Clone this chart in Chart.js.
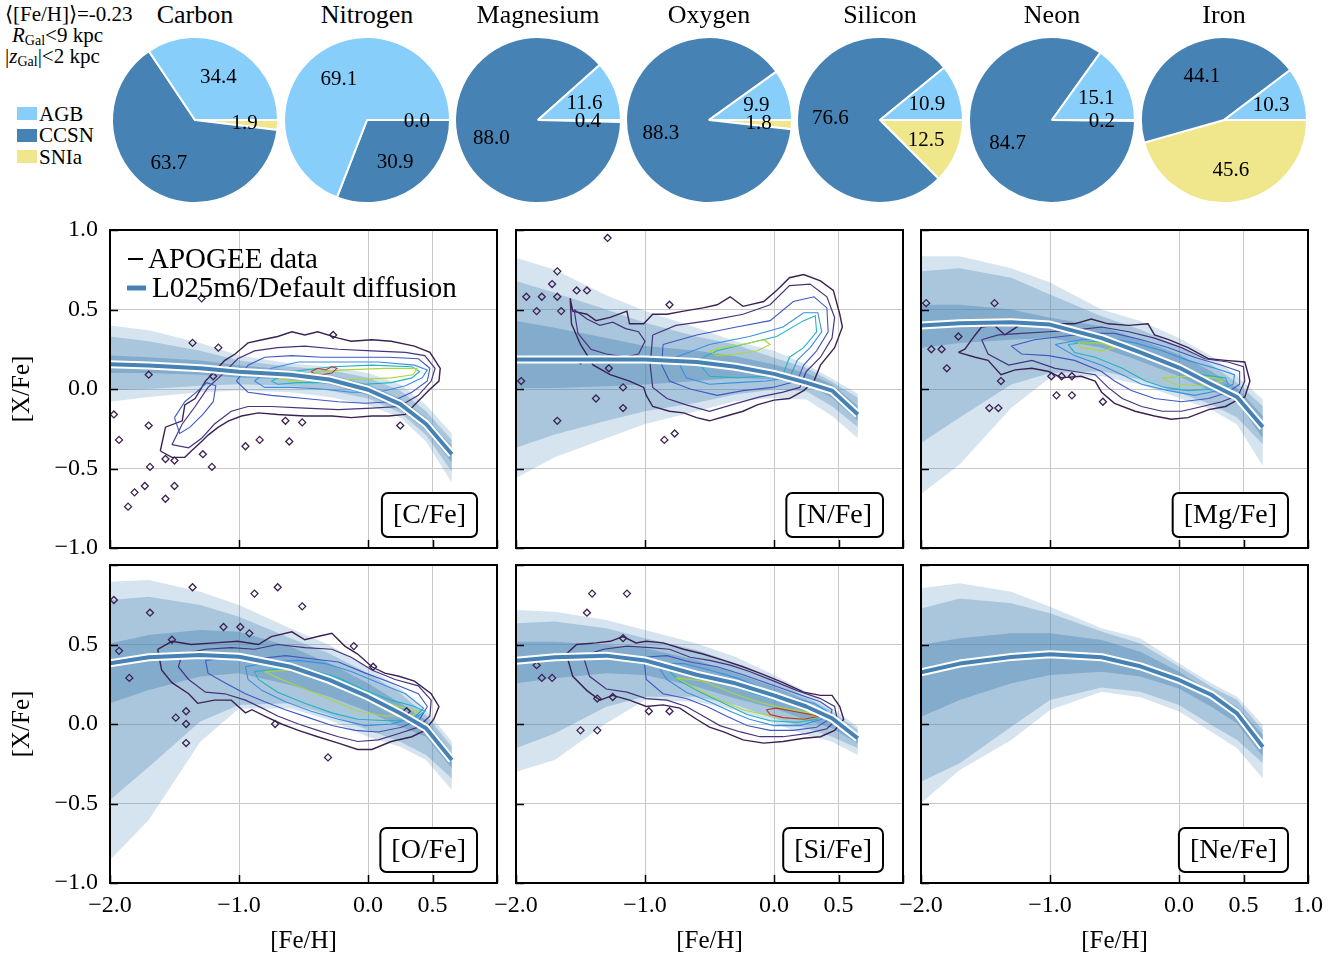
<!DOCTYPE html>
<html>
<head>
<meta charset="utf-8">
<script src="https://cdn.jsdelivr.net/npm/chart.js@4/dist/chart.umd.min.js"></script>
<style>
  html, body { margin: 0; padding: 0; background: #fff; }
  body { width: 1342px; height: 957px; position: relative; overflow: hidden;
         font-family: "Liberation Serif", "Times New Roman", serif; color: #000; }
  canvas { position: absolute; }
  .t { position: absolute; white-space: nowrap; line-height: 1; }
  .sw { position: absolute; width: 20px; height: 13px; }
  sub { font-size: 14px; vertical-align: -3px; line-height: 0; }
</style>
</head>
<body>
<script>
const FONT = '"Liberation Serif", "Times New Roman", serif';

// ---------- nucleosynthetic source shares (per cent) ----------
const sources = ['AGB', 'CCSN', 'SNIa'];
const sourceColors = ['#87cefa', '#4682b4', '#f0e68c'];
const elements = ['Carbon', 'Nitrogen', 'Magnesium', 'Oxygen', 'Silicon', 'Neon', 'Iron'];
const agbShare  = [34.4, 69.1, 11.6,  9.9, 10.9, 15.1, 10.3];
const ccsnShare = [63.7, 30.9, 88.0, 88.3, 76.6, 84.7, 44.1];
const sniaShare = [ 1.9,  0.0,  0.4,  1.8, 12.5,  0.2, 45.6];

// ---------- abundance trends ----------
const feH = [-2.0, -1.7, -1.3, -1.0, -0.6, -0.3, 0.0, 0.25, 0.45, 0.65];
const xTicks = [-2.0, -1.0, 0.0, 0.5, 1.0];
const yTicks = [-1.0, -0.5, 0.0, 0.5, 1.0];

// [C/Fe]
const cMed     = [0.155, 0.148, 0.13, 0.108, 0.09, 0.06, -0.005, -0.095, -0.22, -0.41];
const cOuterHi = [0.40, 0.37, 0.29, 0.21, 0.16, 0.14, 0.10, 0.03, -0.10, -0.28];
const cOuterLo = [-0.08, -0.05, -0.02, -0.01, -0.02, -0.05, -0.10, -0.18, -0.33, -0.59];
const cMidHi   = [0.33, 0.30, 0.24, 0.18, 0.14, 0.12, 0.07, -0.01, -0.14, -0.32];
const cMidLo   = [-0.01, 0.0, 0.02, 0.03, 0.02, -0.01, -0.06, -0.15, -0.29, -0.52];
const cInnerHi = [0.21, 0.20, 0.18, 0.15, 0.12, 0.09, 0.03, -0.06, -0.18, -0.36];
const cInnerLo = [0.10, 0.10, 0.09, 0.07, 0.06, 0.03, -0.04, -0.13, -0.26, -0.46];

// [N/Fe]
const nMed     = [0.186, 0.186, 0.186, 0.185, 0.17, 0.14, 0.095, 0.04, -0.01, -0.16];
const nOuterHi = [0.825, 0.75, 0.59, 0.49, 0.385, 0.30, 0.24, 0.154, 0.065, -0.03];
const nOuterLo = [-0.56, -0.43, -0.31, -0.22, -0.14, -0.077, -0.056, -0.066, -0.17, -0.31];
const nMidHi   = [0.68, 0.605, 0.50, 0.416, 0.33, 0.28, 0.196, 0.133, 0.045, -0.055];
const nMidLo   = [-0.37, -0.286, -0.20, -0.14, -0.087, -0.035, -0.003, -0.014, -0.108, -0.24];
const nInnerHi = [0.427, 0.385, 0.32, 0.27, 0.24, 0.206, 0.154, 0.10, 0.03, -0.108];
const nInnerLo = [0.007, 0.007, 0.018, 0.028, 0.05, 0.07, 0.06, 0.03, -0.055, -0.20];

// [Mg/Fe]
const mgMed     = [0.40, 0.414, 0.42, 0.405, 0.32, 0.23, 0.135, 0.03, -0.05, -0.24];
const mgOuterHi = [0.835, 0.835, 0.76, 0.67, 0.50, 0.427, 0.32, 0.207, 0.08, -0.066];
const mgOuterLo = [-0.66, -0.475, -0.118, 0.07, 0.08, 0.028, -0.056, -0.129, -0.223, -0.485];
const mgMidHi   = [0.74, 0.76, 0.70, 0.594, 0.458, 0.374, 0.27, 0.154, 0.04, -0.108];
const mgMidLo   = [-0.339, -0.18, 0.028, 0.10, 0.112, 0.06, -0.024, -0.097, -0.18, -0.349];
const mgInnerHi = [0.53, 0.53, 0.50, 0.448, 0.395, 0.31, 0.217, 0.112, 0.007, -0.17];
const mgInnerLo = [0.26, 0.29, 0.31, 0.32, 0.26, 0.175, 0.08, -0.014, -0.077, -0.31];

// [O/Fe]
const oMed     = [0.382, 0.42, 0.434, 0.423, 0.36, 0.277, 0.172, 0.067, -0.027, -0.226];
const oOuterHi = [0.895, 0.906, 0.832, 0.748, 0.60, 0.497, 0.36, 0.224, 0.088, -0.111];
const oOuterLo = [-0.855, -0.604, -0.111, 0.098, 0.098, 0.025, -0.080, -0.143, -0.226, -0.415];
const oMidHi   = [0.78, 0.80, 0.748, 0.675, 0.539, 0.444, 0.319, 0.193, 0.057, -0.143];
const oMidLo   = [-0.478, -0.27, 0.015, 0.119, 0.130, 0.057, -0.038, -0.111, -0.195, -0.342];
const oInnerHi = [0.507, 0.56, 0.591, 0.58, 0.486, 0.382, 0.256, 0.130, 0.025, -0.184];
const oInnerLo = [0.13, 0.214, 0.298, 0.319, 0.245, 0.172, 0.078, -0.017, -0.080, -0.279];

// [Si/Fe]
const siMed     = [0.398, 0.42, 0.43, 0.40, 0.31, 0.256, 0.18, 0.11, 0.036, -0.09];
const siOuterHi = [0.717, 0.706, 0.654, 0.591, 0.507, 0.423, 0.308, 0.203, 0.099, -0.017];
const siOuterLo = [-0.30, -0.226, 0.004, 0.151, 0.140, 0.088, 0.004, -0.069, -0.111, -0.195];
const siMidHi   = [0.633, 0.644, 0.602, 0.539, 0.465, 0.382, 0.277, 0.172, 0.078, -0.038];
const siMidLo   = [-0.153, -0.059, 0.109, 0.172, 0.172, 0.119, 0.036, -0.027, -0.080, -0.153];
const siInnerHi = [0.518, 0.518, 0.497, 0.476, 0.402, 0.319, 0.235, 0.151, 0.057, -0.059];
const siInnerLo = [0.256, 0.287, 0.319, 0.308, 0.235, 0.161, 0.099, 0.025, -0.027, -0.122];

// [Ne/Fe]
const neMed     = [0.325, 0.38, 0.422, 0.438, 0.42, 0.363, 0.277, 0.184, 0.067, -0.145];
const neOuterHi = [0.853, 0.885, 0.832, 0.738, 0.602, 0.539, 0.382, 0.256, 0.172, -0.006];
const neOuterLo = [-0.499, -0.289, -0.101, 0.088, 0.203, 0.168, 0.078, -0.048, -0.153, -0.342];
const neMidHi   = [0.727, 0.790, 0.759, 0.696, 0.581, 0.507, 0.361, 0.235, 0.151, -0.038];
const neMidLo   = [-0.363, -0.247, -0.017, 0.151, 0.229, 0.203, 0.119, -0.006, -0.101, -0.247];
const neInnerHi = [0.497, 0.539, 0.570, 0.570, 0.528, 0.455, 0.329, 0.203, 0.109, -0.069];
const neInnerLo = [0.046, 0.151, 0.256, 0.308, 0.329, 0.298, 0.224, 0.109, 0.004, -0.205];

// ---------- APOGEE density contours, [Fe/H],[X/Fe] pairs ----------
const cRing1 = [-1.61,-0.39, -1.57,-0.24, -1.44,-0.20, -1.42,-0.10, -1.34,-0.06, -1.26,0.05, -1.19,0.11, -1.11,0.18, -1.03,0.22, -0.93,0.29, -0.82,0.31, -0.70,0.33, -0.59,0.36, -0.49,0.34, -0.39,0.36, -0.23,0.32, -0.13,0.30, 0.03,0.31, 0.18,0.30, 0.36,0.27, 0.48,0.23, 0.56,0.13, 0.55,0.05, 0.47,-0.01, 0.36,-0.10, 0.29,-0.16, 0.16,-0.17, 0.03,-0.17, -0.13,-0.18, -0.28,-0.17, -0.49,-0.17, -0.70,-0.16, -0.85,-0.15, -0.98,-0.17, -1.08,-0.20, -1.16,-0.24, -1.24,-0.29, -1.29,-0.33, -1.37,-0.39, -1.42,-0.43, -1.52,-0.43];
const cRing2 = [-1.52,-0.35, -1.44,-0.22, -1.34,-0.11, -1.24,0.01, -1.13,0.09, -1.01,0.19, -0.88,0.24, -0.70,0.26, -0.49,0.27, -0.23,0.25, 0.03,0.24, 0.29,0.23, 0.44,0.21, 0.52,0.13, 0.49,0.05, 0.39,-0.04, 0.24,-0.11, 0.03,-0.12, -0.23,-0.13, -0.49,-0.12, -0.75,-0.11, -0.93,-0.11, -1.06,-0.14, -1.19,-0.22, -1.29,-0.31, -1.39,-0.37];
const cRing3 = [-1.02,0.05, -0.93,0.15, -0.80,0.20, -0.59,0.21, -0.36,0.20, -0.10,0.20, 0.16,0.20, 0.39,0.19, 0.48,0.13, 0.46,0.05, 0.34,-0.02, 0.18,-0.08, -0.02,-0.09, -0.23,-0.08, -0.49,-0.06, -0.75,-0.04, -0.93,-0.02];
const cRing4 = [-0.88,0.05, -0.75,0.13, -0.54,0.17, -0.23,0.17, 0.08,0.17, 0.36,0.15, 0.46,0.12, 0.42,0.07, 0.29,0.02, 0.08,-0.02, -0.13,-0.02, -0.36,0.00, -0.59,0.01, -0.80,0.01];
const cRing5 = [-0.75,0.05, -0.59,0.11, -0.28,0.14, 0.03,0.15, 0.34,0.14, 0.40,0.11, 0.34,0.07, 0.18,0.04, -0.02,0.03, -0.28,0.04, -0.54,0.04, -0.70,0.03];
const cRing6 = [-0.70,0.07, -0.49,0.10, -0.18,0.12, 0.13,0.13, 0.38,0.13, 0.35,0.09, 0.18,0.07, -0.08,0.06, -0.36,0.06, -0.59,0.05];
const cRing7 = [-0.44,0.11, -0.39,0.13, -0.33,0.12, -0.28,0.14, -0.24,0.13, -0.28,0.10, -0.36,0.09, -0.41,0.09];
const cRing2b = [-1.50,-0.18, -1.42,-0.08, -1.33,-0.02, -1.25,0.04, -1.18,0.02, -1.20,-0.08, -1.28,-0.16, -1.38,-0.24, -1.46,-0.28];
const cOutliers = [-1.29,0.57, -1.36,0.29, -1.16,0.26, -1.70,0.09, -1.97,-0.16, -1.93,-0.32, -1.70,-0.23, -1.57,-0.44, -1.50,-0.45, -1.28,-0.41, -1.21,-0.49, -1.69,-0.49, -1.73,-0.61, -1.81,-0.65, -1.86,-0.74, -1.57,-0.69, -1.50,-0.61, -0.95,-0.36, -0.84,-0.32, -0.64,-0.20, -0.61,-0.33, -0.51,-0.21, -0.27,0.34, 0.25,-0.23, -1.20,0.08];

const nRing1 = [-1.58,0.57, -1.56,0.49, -1.45,0.47, -1.38,0.43, -1.27,0.45, -1.14,0.49, -1.12,0.41, -1.01,0.41, -0.94,0.47, -0.83,0.47, -0.70,0.49, -0.55,0.51, -0.44,0.53, -0.34,0.58, -0.24,0.52, -0.08,0.55, 0.02,0.62, 0.12,0.70, 0.23,0.72, 0.36,0.68, 0.46,0.62, 0.51,0.47, 0.53,0.39, 0.47,0.26, 0.36,0.15, 0.31,0.05, 0.23,-0.01, 0.12,-0.06, 0.00,-0.07, -0.13,-0.10, -0.24,-0.14, -0.37,-0.17, -0.50,-0.20, -0.60,-0.18, -0.70,-0.15, -0.81,-0.14, -0.94,-0.11, -0.99,-0.04, -1.01,0.01, -1.12,0.05, -1.27,0.09, -1.40,0.15, -1.50,0.28, -1.57,0.41];
const nRing2 = [-0.94,0.34, -0.76,0.40, -0.50,0.43, -0.24,0.47, -0.03,0.53, 0.12,0.65, 0.28,0.66, 0.41,0.58, 0.47,0.45, 0.45,0.32, 0.36,0.20, 0.25,0.11, 0.20,0.01, 0.07,-0.02, -0.11,-0.05, -0.29,-0.09, -0.50,-0.14, -0.68,-0.10, -0.83,-0.06, -0.94,0.01, -0.96,0.15];
const nRing2b = [-1.55,0.50, -1.45,0.44, -1.35,0.40, -1.25,0.42, -1.15,0.38, -1.05,0.36, -1.00,0.30, -1.05,0.22, -1.15,0.20, -1.30,0.22, -1.42,0.25, -1.52,0.35];
const nRing3 = [-0.86,0.28, -0.60,0.34, -0.29,0.39, -0.03,0.43, 0.15,0.55, 0.31,0.58, 0.41,0.51, 0.42,0.36, 0.33,0.24, 0.23,0.15, 0.18,0.05, -0.01,0.01, -0.24,-0.01, -0.44,-0.04, -0.65,0.00, -0.81,0.05, -0.87,0.15];
const nRing4 = [-0.76,0.20, -0.50,0.28, -0.19,0.33, 0.07,0.39, 0.23,0.48, 0.34,0.48, 0.37,0.36, 0.28,0.26, 0.18,0.18, 0.12,0.07, -0.06,0.05, -0.29,0.04, -0.50,0.03, -0.68,0.07];
const nRing5 = [-0.60,0.18, -0.44,0.24, -0.24,0.28, 0.02,0.33, 0.23,0.43, 0.32,0.46, 0.33,0.36, 0.23,0.26, 0.12,0.20, 0.07,0.09, -0.08,0.08, -0.29,0.07, -0.50,0.08];
const nRing6 = [-0.50,0.24, -0.39,0.26, -0.24,0.28, -0.08,0.31, -0.03,0.28, -0.13,0.24, -0.29,0.22, -0.44,0.21];
const nOutliers = [-1.29,0.95, -1.68,0.74, -1.72,0.66, -1.92,0.58, -1.80,0.58, -1.68,0.58, -1.53,0.62, -1.45,0.62, -1.84,0.49, -1.65,0.49, -1.96,0.05, -1.68,-0.20, -1.17,-0.12, -0.85,-0.32, -0.77,-0.28, -0.81,0.53, -1.50,0.18, -1.28,0.13, -1.17,0.01, -1.38,-0.06];

const mgRing1 = [-1.71,0.23, -1.66,0.25, -1.58,0.34, -1.53,0.39, -1.43,0.40, -1.35,0.34, -1.22,0.41, -1.07,0.39, -0.96,0.41, -0.81,0.41, -0.68,0.44, -0.55,0.41, -0.39,0.40, -0.24,0.41, -0.19,0.34, -0.08,0.31, 0.07,0.26, 0.23,0.19, 0.36,0.18, 0.51,0.17, 0.55,0.05, 0.51,-0.05, 0.43,-0.08, 0.36,-0.11, 0.23,-0.13, 0.07,-0.18, -0.06,-0.19, -0.19,-0.17, -0.34,-0.14, -0.50,-0.09, -0.60,-0.02, -0.65,0.05, -0.76,0.08, -0.91,0.07, -1.01,0.11, -1.14,0.13, -1.27,0.12, -1.38,0.09, -1.48,0.18, -1.58,0.20];
const mgRing2 = [-1.53,0.31, -1.40,0.34, -1.22,0.35, -1.01,0.36, -0.81,0.37, -0.60,0.39, -0.39,0.36, -0.19,0.32, 0.02,0.26, 0.20,0.19, 0.38,0.17, 0.50,0.14, 0.51,0.05, 0.46,-0.04, 0.33,-0.08, 0.18,-0.11, 0.02,-0.14, -0.13,-0.14, -0.29,-0.11, -0.44,-0.06, -0.55,0.01, -0.65,0.09, -0.81,0.11, -0.96,0.13, -1.14,0.18, -1.32,0.15, -1.48,0.22];
const mgRing3 = [-1.30,0.27, -1.12,0.31, -0.91,0.33, -0.70,0.35, -0.50,0.35, -0.29,0.31, -0.08,0.26, 0.12,0.20, 0.33,0.15, 0.47,0.11, 0.47,0.03, 0.38,-0.02, 0.23,-0.06, 0.02,-0.08, -0.19,-0.06, -0.37,-0.01, -0.50,0.05, -0.60,0.11, -0.81,0.18, -1.01,0.21, -1.22,0.22];
const mgRing4 = [-0.96,0.28, -0.76,0.31, -0.55,0.32, -0.34,0.29, -0.13,0.24, 0.07,0.18, 0.28,0.13, 0.43,0.09, 0.42,0.03, 0.31,-0.01, 0.12,-0.04, -0.08,-0.01, -0.29,0.03, -0.44,0.09, -0.60,0.15, -0.81,0.21];
const mgRing5 = [-0.86,0.28, -0.65,0.30, -0.44,0.27, -0.24,0.21, -0.03,0.13, 0.18,0.09, 0.36,0.07, 0.38,0.03, 0.28,0.00, 0.07,-0.01, -0.11,0.01, -0.26,0.05, -0.44,0.13, -0.65,0.20, -0.81,0.23];
const mgRing6a = [-0.78,0.29, -0.60,0.29, -0.50,0.26, -0.60,0.24, -0.76,0.26];
const mgRing6b = [-0.13,0.07, 0.07,0.08, 0.28,0.07, 0.34,0.05, 0.18,0.02, -0.03,0.03];
const mgOutliers = [-1.96,0.54, -1.43,0.54, -1.92,0.25, -1.84,0.25, -1.80,0.13, -1.47,-0.12, -1.40,-0.12, -0.99,0.08, -0.91,0.08, -0.83,0.08, -0.95,-0.04, -0.83,-0.04, -0.59,-0.08, -1.71,0.33, -1.38,0.05];

const oRing1 = [-1.63,0.47, -1.52,0.52, -1.37,0.50, -1.19,0.51, -1.01,0.52, -0.85,0.50, -0.75,0.55, -0.59,0.58, -0.49,0.53, -0.39,0.55, -0.28,0.57, -0.18,0.49, -0.08,0.44, 0.03,0.36, 0.13,0.32, 0.24,0.30, 0.36,0.27, 0.49,0.19, 0.55,0.11, 0.51,0.03, 0.44,-0.04, 0.34,-0.08, 0.18,-0.11, 0.03,-0.16, -0.08,-0.16, -0.23,-0.12, -0.39,-0.08, -0.54,-0.04, -0.67,0.00, -0.80,0.05, -0.90,0.09, -0.95,0.07, -1.06,0.15, -1.19,0.15, -1.32,0.13, -1.39,0.19, -1.52,0.26, -1.60,0.34];
const oRing2 = [-1.44,0.44, -1.26,0.47, -1.06,0.48, -0.88,0.47, -0.70,0.50, -0.49,0.48, -0.28,0.47, -0.13,0.42, 0.03,0.34, 0.21,0.28, 0.39,0.24, 0.49,0.15, 0.48,0.05, 0.39,-0.02, 0.24,-0.06, 0.08,-0.10, -0.08,-0.11, -0.23,-0.08, -0.39,-0.04, -0.54,0.00, -0.70,0.05, -0.82,0.10, -0.95,0.15, -1.11,0.19, -1.26,0.20, -1.39,0.28, -1.47,0.36];
const oRing3 = [-1.26,0.40, -1.06,0.42, -0.85,0.41, -0.64,0.43, -0.44,0.41, -0.23,0.39, -0.02,0.32, 0.18,0.26, 0.39,0.19, 0.46,0.11, 0.40,0.03, 0.26,-0.02, 0.08,-0.05, -0.10,-0.04, -0.28,-0.01, -0.46,0.04, -0.64,0.09, -0.80,0.14, -0.95,0.19, -1.11,0.26, -1.24,0.32];
const oRing4 = [-0.95,0.36, -0.75,0.39, -0.54,0.40, -0.33,0.38, -0.13,0.33, 0.08,0.26, 0.29,0.19, 0.43,0.10, 0.36,0.04, 0.18,0.00, -0.02,-0.01, -0.23,0.03, -0.44,0.08, -0.64,0.14, -0.82,0.21, -0.93,0.28];
const oRing5 = [-0.88,0.33, -0.64,0.35, -0.44,0.34, -0.23,0.29, -0.02,0.21, 0.18,0.15, 0.36,0.11, 0.44,0.08, 0.36,0.03, 0.16,0.02, -0.08,0.03, -0.28,0.07, -0.49,0.13, -0.70,0.20, -0.85,0.28];
const oRing6 = [-0.80,0.33, -0.59,0.34, -0.39,0.31, -0.18,0.24, 0.03,0.16, 0.24,0.11, 0.39,0.08, 0.34,0.05, 0.13,0.05, -0.08,0.08, -0.28,0.15, -0.49,0.22, -0.70,0.29];
const oOutliers = [-1.97,0.78, -1.36,0.86, -1.69,0.70, -0.88,0.82, -0.70,0.86, -0.51,0.74, -1.12,0.61, -0.99,0.61, -0.92,0.57, -1.93,0.46, -1.85,0.29, -1.52,0.53, -1.49,0.04, -1.41,0.08, -1.41,0.00, -1.41,-0.12, -0.11,0.49, 0.04,0.36, -0.31,-0.21, -0.72,0.00, 0.30,0.08];

const siRing1 = [-1.61,0.44, -1.53,0.50, -1.38,0.51, -1.27,0.52, -1.17,0.55, -1.07,0.51, -0.99,0.52, -0.86,0.51, -0.70,0.47, -0.55,0.44, -0.39,0.40, -0.24,0.36, -0.08,0.31, 0.07,0.26, 0.23,0.20, 0.36,0.18, 0.45,0.18, 0.51,0.11, 0.54,0.03, 0.47,-0.04, 0.36,-0.08, 0.23,-0.09, 0.07,-0.11, -0.08,-0.12, -0.24,-0.10, -0.39,-0.05, -0.50,-0.02, -0.60,0.03, -0.73,0.10, -0.86,0.12, -0.99,0.11, -1.12,0.15, -1.25,0.18, -1.35,0.15, -1.45,0.21, -1.56,0.30];
const siRing2 = [-1.48,0.43, -1.32,0.47, -1.14,0.49, -0.96,0.48, -0.81,0.47, -0.65,0.42, -0.50,0.40, -0.34,0.37, -0.19,0.33, 0.00,0.27, 0.18,0.21, 0.36,0.16, 0.47,0.11, 0.49,0.03, 0.41,-0.03, 0.25,-0.06, 0.07,-0.08, -0.11,-0.08, -0.26,-0.05, -0.42,-0.01, -0.55,0.05, -0.68,0.11, -0.83,0.15, -0.99,0.16, -1.14,0.20, -1.30,0.22, -1.43,0.30];
const siRing3 = [-1.01,0.42, -0.83,0.43, -0.65,0.39, -0.44,0.36, -0.24,0.31, -0.03,0.25, 0.18,0.19, 0.36,0.14, 0.45,0.09, 0.43,0.03, 0.33,-0.02, 0.15,-0.04, -0.03,-0.04, -0.21,-0.01, -0.37,0.05, -0.52,0.11, -0.68,0.16, -0.86,0.19, -0.99,0.28];
const siRing4 = [-0.91,0.38, -0.70,0.38, -0.50,0.34, -0.29,0.29, -0.08,0.22, 0.12,0.17, 0.31,0.13, 0.41,0.08, 0.37,0.03, 0.20,-0.01, 0.00,-0.01, -0.19,0.03, -0.34,0.08, -0.50,0.14, -0.68,0.20, -0.83,0.28];
const siRing5 = [-0.81,0.33, -0.60,0.32, -0.39,0.27, -0.19,0.20, 0.02,0.15, 0.23,0.11, 0.37,0.07, 0.33,0.03, 0.18,0.01, -0.03,0.02, -0.21,0.06, -0.39,0.13, -0.57,0.20, -0.73,0.27];
const siRing6 = [-0.76,0.29, -0.55,0.27, -0.34,0.20, -0.13,0.14, 0.07,0.10, 0.28,0.07, 0.33,0.04, 0.18,0.03, -0.03,0.05, -0.24,0.09, -0.42,0.15, -0.60,0.22];
const siRing7 = [-0.06,0.09, 0.02,0.10, 0.15,0.08, 0.28,0.06, 0.36,0.05, 0.23,0.03, 0.07,0.04, -0.03,0.06];
const siOutliers = [-1.41,0.82, -1.14,0.82, -1.45,0.70, -1.84,0.37, -1.80,0.29, -1.72,0.29, -1.37,0.16, -1.25,0.17, -0.97,0.08, -0.81,0.08, -1.50,-0.04, -1.37,-0.04, -1.17,0.54];

// contour colours, outermost level first
const levelColors = ['#3b2252', '#46337e', '#3f58c4', '#3a8fe2', '#21b2c4', '#a9d83c', '#b8372c'];
const levelWidths = [1.4, 1.2, 1.1, 1.1, 1.1, 1.1, 1.1];
// spread bands: outer, middle, inner
const bandColors = ['rgba(70,130,180,0.22)', 'rgba(70,130,180,0.30)', 'rgba(70,130,180,0.40)'];
const medianColor = '#4682b4';

const panels = [
  { name: '[C/Fe]', col: 0, row: 0, med: cMed,
    bands: [[cOuterHi, cOuterLo], [cMidHi, cMidLo], [cInnerHi, cInnerLo]],
    rings: [[0, cRing1], [1, cRing2], [2, cRing2b], [2, cRing3], [3, cRing4], [4, cRing5], [5, cRing6], [6, cRing7]],
    outliers: cOutliers, legend: true },
  { name: '[N/Fe]', col: 1, row: 0, med: nMed,
    bands: [[nOuterHi, nOuterLo], [nMidHi, nMidLo], [nInnerHi, nInnerLo]],
    rings: [[0, nRing1], [1, nRing2], [1, nRing2b], [2, nRing3], [3, nRing4], [4, nRing5], [5, nRing6]],
    outliers: nOutliers },
  { name: '[Mg/Fe]', col: 2, row: 0, med: mgMed,
    bands: [[mgOuterHi, mgOuterLo], [mgMidHi, mgMidLo], [mgInnerHi, mgInnerLo]],
    rings: [[0, mgRing1], [1, mgRing2], [2, mgRing3], [3, mgRing4], [4, mgRing5], [5, mgRing6a], [5, mgRing6b]],
    outliers: mgOutliers },
  { name: '[O/Fe]', col: 0, row: 1, med: oMed,
    bands: [[oOuterHi, oOuterLo], [oMidHi, oMidLo], [oInnerHi, oInnerLo]],
    rings: [[0, oRing1], [1, oRing2], [2, oRing3], [3, oRing4], [4, oRing5], [5, oRing6]],
    outliers: oOutliers },
  { name: '[Si/Fe]', col: 1, row: 1, med: siMed,
    bands: [[siOuterHi, siOuterLo], [siMidHi, siMidLo], [siInnerHi, siInnerLo]],
    rings: [[0, siRing1], [1, siRing2], [2, siRing3], [3, siRing4], [4, siRing5], [5, siRing6], [6, siRing7]],
    outliers: siOutliers },
  { name: '[Ne/Fe]', col: 2, row: 1, med: neMed,
    bands: [[neOuterHi, neOuterLo], [neMidHi, neMidLo], [neInnerHi, neInnerLo]],
    rings: [], outliers: [] }
];

// ---------- layout ----------
const pieCenterX = [195, 367, 538, 709, 880, 1052, 1224];
const pieCenterY = 120;
const pieRadius = 83;
const colLeft = [110, 516, 921];
const rowTop = [230, 565];
const panelW = 387, panelH = 318;
const axisW = 110, axisH = 45, padTop = 32, padRight = 28;

// ---------- helpers ----------
function addCanvas(left, top, w, h) {
  const c = document.createElement('canvas');
  c.width = w; c.height = h;
  Object.assign(c.style, { left: left + 'px', top: top + 'px', width: w + 'px', height: h + 'px' });
  document.body.appendChild(c);
  return c;
}
function addText(html, x, y, size, align, extra) {
  const d = document.createElement('div');
  d.className = 't';
  d.innerHTML = html;
  d.style.fontSize = size + 'px';
  d.style.left = x + 'px';
  d.style.top = y + 'px';
  d.style.transform = (align === 'center' ? 'translate(-50%,-50%)' : 'translate(0,-50%)') + (extra || '');
  document.body.appendChild(d);
  return d;
}
function pairs(flat) {
  const pts = [];
  for (let i = 0; i < flat.length; i += 2) pts.push({ x: flat[i], y: flat[i + 1] });
  return pts;
}
function closedLoop(flat) { const p = pairs(flat); p.push({ x: p[0].x, y: p[0].y }); return p; }
function series(ys) { return feH.map((x, i) => ({ x, y: ys[i] })); }
function fmt(v) { return (v < 0 ? '\u2212' : '') + Math.abs(v).toFixed(1); }

// ---------- pie labels (percentages at 0.6 R) ----------
const pieLabels = {
  id: 'pieLabels',
  afterDatasetsDraw(chart) {
    const ctx = chart.ctx;
    const meta = chart.getDatasetMeta(0);
    const vals = chart.data.datasets[0].data;
    ctx.save();
    ctx.font = '21px ' + FONT;
    ctx.fillStyle = '#000';
    ctx.textAlign = 'center';
    ctx.textBaseline = 'middle';
    meta.data.forEach((arc, i) => {
      const p = arc.getProps(['x', 'y', 'startAngle', 'endAngle', 'outerRadius'], true);
      const mid = (p.startAngle + p.endAngle) / 2;
      const r = 0.6 * p.outerRadius;
      ctx.fillText(vals[i].toFixed(1), p.x + Math.cos(mid) * r, p.y + Math.sin(mid) * r + 1);
    });
    ctx.restore();
  }
};

// ---------- frame, inward ticks, element tag and legend ----------
const panelDecor = {
  id: 'panelDecor',
  afterDatasetsDraw(chart, args, opts) {
    const { ctx, chartArea: a, scales } = chart;
    const sx = scales.x, sy = scales.y;
    ctx.save();
    ctx.strokeStyle = '#000';
    ctx.lineWidth = 1.5;
    ctx.beginPath();
    xTicks.forEach(v => {
      const px = Math.round(sx.getPixelForValue(v)) + 0.5;
      ctx.moveTo(px, a.bottom); ctx.lineTo(px, a.bottom - 8);
    });
    yTicks.forEach(v => {
      const py = Math.round(sy.getPixelForValue(v)) + 0.5;
      ctx.moveTo(a.left, py); ctx.lineTo(a.left + 8, py);
    });
    ctx.stroke();
    ctx.lineWidth = 2;
    ctx.strokeRect(a.left, a.top, a.right - a.left, a.bottom - a.top);

    // element tag
    ctx.font = '28px ' + FONT;
    const tw = ctx.measureText(opts.name).width;
    const bw = tw + 22, bh = 44;
    const bx = a.right - 20 - bw, by = a.bottom - 11 - bh;
    ctx.beginPath();
    if (ctx.roundRect) ctx.roundRect(bx, by, bw, bh, 6); else ctx.rect(bx, by, bw, bh);
    ctx.fillStyle = '#fff';
    ctx.fill();
    ctx.lineWidth = 2;
    ctx.stroke();
    ctx.fillStyle = '#000';
    ctx.textAlign = 'center';
    ctx.textBaseline = 'middle';
    ctx.fillText(opts.name, bx + bw / 2, by + bh / 2 + 1);

    if (opts.legend) {
      ctx.font = '29px ' + FONT;
      ctx.textAlign = 'left';
      ctx.lineWidth = 2;
      ctx.strokeStyle = '#000';
      ctx.beginPath();
      ctx.moveTo(a.left + 18, a.top + 29); ctx.lineTo(a.left + 33, a.top + 29);
      ctx.stroke();
      ctx.fillText('APOGEE data', a.left + 38, a.top + 30);
      ctx.lineWidth = 5;
      ctx.strokeStyle = medianColor;
      ctx.beginPath();
      ctx.moveTo(a.left + 17, a.top + 58); ctx.lineTo(a.left + 36, a.top + 58);
      ctx.stroke();
      ctx.fillText('L025m6/Default diffusion', a.left + 42, a.top + 59);
    }
    ctx.restore();
  }
};

// ---------- pies ----------
elements.forEach((el, k) => {
  const size = 2 * pieRadius + 6;
  const cv = addCanvas(pieCenterX[k] - size / 2, pieCenterY - size / 2, size, size);
  new Chart(cv, {
    type: 'pie',
    data: {
      labels: [sources[2], sources[1], sources[0]],
      datasets: [{
        data: [sniaShare[k], ccsnShare[k], agbShare[k]],
        backgroundColor: [sourceColors[2], sourceColors[1], sourceColors[0]],
        borderColor: '#fff',
        borderWidth: 2
      }]
    },
    options: {
      responsive: false, animation: false, events: [],
      rotation: 90, radius: pieRadius,
      layout: { padding: 0 },
      plugins: { legend: { display: false }, tooltip: { enabled: false } }
    },
    plugins: [pieLabels]
  });
  addText(el, pieCenterX[k], 15, 26, 'center');
});

// ---------- corner annotation and source key ----------
addText('\u27e8[Fe/H]\u27e9=-0.23', 5, 14, 21, 'left');
addText('<i>R</i><sub>Gal</sub>&lt;9 kpc', 12, 35, 21, 'left');
addText('|<i>z</i><sub>Gal</sub>|&lt;2 kpc', 5, 56, 21, 'left');
[113.5, 135, 156.5].forEach((y, i) => {
  const sw = document.createElement('div');
  sw.className = 'sw';
  sw.style.left = '17px';
  sw.style.top = (y - 6.5) + 'px';
  sw.style.background = sourceColors[i];
  document.body.appendChild(sw);
  addText(sources[i], 39, y, 21, 'left');
});

// ---------- abundance panels ----------
panels.forEach(p => {
  const left = colLeft[p.col] - axisW;
  const top = rowTop[p.row] - padTop;
  const cv = addCanvas(left, top, axisW + panelW + padRight, padTop + panelH + axisH);
  const ds = [];
  p.bands.forEach((band, k) => {
    ds.push({ data: series(band[0]), fill: '+1', backgroundColor: bandColors[k],
              borderColor: 'rgba(0,0,0,0)', borderWidth: 0, pointRadius: 0, order: 30 - k });
    ds.push({ data: series(band[1]), fill: false,
              borderColor: 'rgba(0,0,0,0)', borderWidth: 0, pointRadius: 0, order: 30 - k });
  });
  p.rings.forEach(([lvl, ring]) => {
    ds.push({ data: closedLoop(ring), fill: false, borderColor: levelColors[lvl],
              borderWidth: levelWidths[lvl], pointRadius: 0, order: 20 - lvl });
  });
  if (p.outliers.length) {
    ds.push({ data: pairs(p.outliers), showLine: false, pointStyle: 'rectRot', pointRadius: 3.5,
              pointBorderColor: levelColors[0], pointBackgroundColor: 'rgba(0,0,0,0)',
              pointBorderWidth: 1.3, order: 5 });
  }
  ds.push({ data: series(p.med), fill: false, borderColor: '#ffffff', borderWidth: 8,
            pointRadius: 0, order: 2, borderJoinStyle: 'round' });
  ds.push({ data: series(p.med), fill: false, borderColor: medianColor, borderWidth: 4,
            pointRadius: 0, order: 1, borderJoinStyle: 'round' });

  new Chart(cv, {
    type: 'line',
    data: { datasets: ds },
    options: {
      responsive: false, animation: false, events: [],
      layout: { padding: { top: padTop, right: padRight, left: 0, bottom: 0 } },
      elements: { line: { tension: 0 } },
      plugins: { legend: { display: false }, tooltip: { enabled: false },
                 panelDecor: { name: p.name, legend: !!p.legend } },
      scales: {
        x: {
          type: 'linear', min: -2, max: 1,
          afterBuildTicks: s => { s.ticks = xTicks.map(v => ({ value: v })); },
          afterFit: s => { s.height = axisH; },
          grid: { color: '#c8c8c8', lineWidth: 1, drawTicks: false },
          border: { display: false },
          ticks: {
            autoSkip: false, maxRotation: 0, padding: 8, color: '#000',
            font: { family: FONT, size: 24 },
            callback: v => (p.row === 0 || (v === 1 && p.col !== 2)) ? '' : fmt(v)
          }
        },
        y: {
          type: 'linear', min: -1, max: 1,
          afterBuildTicks: s => { s.ticks = yTicks.map(v => ({ value: v })); },
          afterFit: s => { s.width = axisW; },
          grid: { color: '#c8c8c8', lineWidth: 1, drawTicks: false },
          border: { display: false },
          ticks: {
            autoSkip: false, padding: 12, color: '#000',
            font: { family: FONT, size: 24 },
            callback: v => (p.col !== 0 || (v === 1 && p.row === 1)) ? '' : fmt(v)
          }
        }
      }
    },
    plugins: [panelDecor]
  });
});

// axis titles
[0, 1, 2].forEach(c => addText('[Fe/H]', colLeft[c] + panelW / 2, 939, 25, 'center'));
[0, 1].forEach(r => addText('[X/Fe]', 20, rowTop[r] + panelH / 2, 25, 'center', ' rotate(-90deg)'));
</script>
</body>
</html>
